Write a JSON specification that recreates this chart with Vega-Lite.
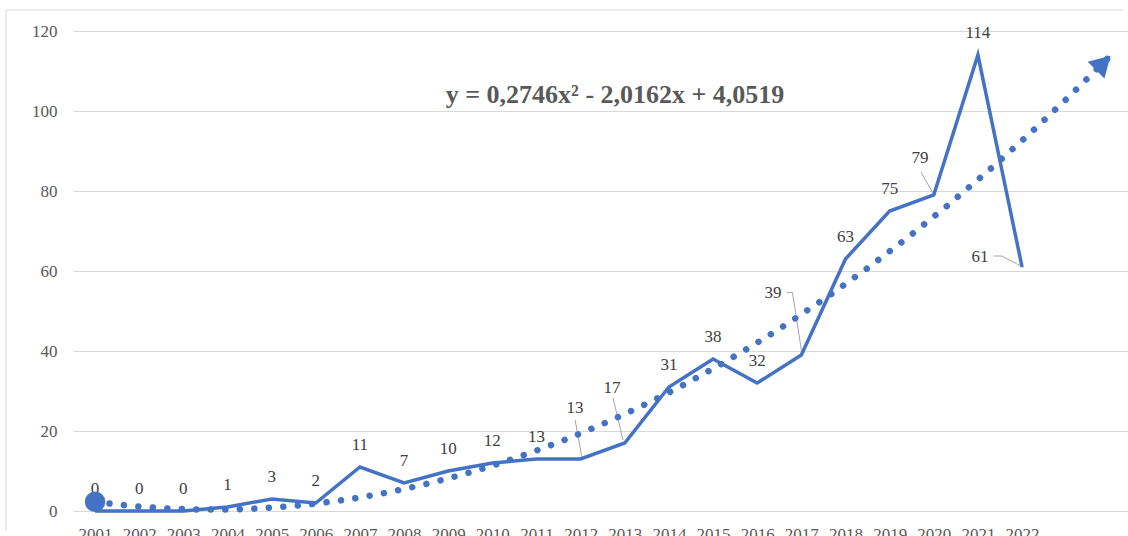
{
  "$schema": "https://vega.github.io/schema/vega-lite/v6.json",
  "width": 1055,
  "height": 480,
  "autosize": {"type": "none"},
  "padding": {"left": 73, "top": 31, "right": 0, "bottom": 25},
  "background": "white",
  "config": {
    "view": {"stroke": null},
    "font": "Liberation Serif",
    "text": {"font": "Liberation Serif"},
    "axis": {
      "labelFont": "Liberation Serif",
      "labelFontSize": 17,
      "labelColor": "#595959",
      "domain": false,
      "ticks": false,
      "title": null
    }
  },
  "data": {
    "values": [
      {"year": 2001, "count": 0},
      {"year": 2002, "count": 0},
      {"year": 2003, "count": 0},
      {"year": 2004, "count": 1},
      {"year": 2005, "count": 3},
      {"year": 2006, "count": 2},
      {"year": 2007, "count": 11},
      {"year": 2008, "count": 7},
      {"year": 2009, "count": 10},
      {"year": 2010, "count": 12},
      {"year": 2011, "count": 13},
      {"year": 2012, "count": 13},
      {"year": 2013, "count": 17},
      {"year": 2014, "count": 31},
      {"year": 2015, "count": 38},
      {"year": 2016, "count": 32},
      {"year": 2017, "count": 39},
      {"year": 2018, "count": 63},
      {"year": 2019, "count": 75},
      {"year": 2020, "count": 79},
      {"year": 2021, "count": 114},
      {"year": 2022, "count": 61}
    ]
  },
  "encoding": {
    "x": {
      "field": "year",
      "type": "quantitative",
      "scale": {"domain": [2000.5, 2024.4], "nice": false, "zero": false},
      "axis": {
        "values": [2001, 2002, 2003, 2004, 2005, 2006, 2007, 2008, 2009, 2010, 2011, 2012, 2013, 2014, 2015, 2016, 2017, 2018, 2019, 2020, 2021, 2022],
        "format": "d",
        "grid": false,
        "labelPadding": 15,
        "labelFlush": false,
        "labelOverlap": false
      }
    },
    "y": {
      "field": "count",
      "type": "quantitative",
      "scale": {"domain": [0, 120], "nice": false},
      "axis": {
        "values": [0, 20, 40, 60, 80, 100, 120],
        "grid": true,
        "gridColor": "#d9d9d9",
        "gridWidth": 1,
        "labelPadding": 16
      }
    }
  },
  "layer": [
    {
      "transform": [{"filter": "datum.year == 2001"}],
      "mark": {"type": "rule", "color": "#d9d9d9", "strokeWidth": 1, "clip": false},
      "encoding": {
        "x": {"datum": 1998.98},
        "y": {"datum": 125.25},
        "y2": {"datum": -5}
      }
    },
    {
      "transform": [{"filter": "datum.year == 2001"}],
      "mark": {"type": "rule", "color": "#d9d9d9", "strokeWidth": 1, "clip": false},
      "encoding": {
        "x": {"datum": 1998.98},
        "x2": {"datum": 2024.3},
        "y": {"datum": 125.25}
      }
    },
    {
      "transform": [{"filter": "indexof([2012, 2013, 2017, 2020, 2022], datum.year) < 0"}],
      "mark": {"type": "text", "font": "Liberation Serif", "dy": -22, "fontSize": 17, "color": "#404040", "baseline": "middle"},
      "encoding": {"text": {"field": "count", "type": "quantitative"}}
    },
    {
      "transform": [{"filter": "datum.year == 2012"}],
      "mark": {"type": "text", "font": "Liberation Serif", "fontSize": 17, "color": "#404040", "baseline": "middle"},
      "encoding": {"x": {"datum": 2011.875}, "y": {"datum": 25.75}, "text": {"field": "count", "type": "quantitative"}}
    },
    {
      "transform": [{"filter": "datum.year == 2013"}],
      "mark": {"type": "text", "font": "Liberation Serif", "fontSize": 17, "color": "#404040", "baseline": "middle"},
      "encoding": {"x": {"datum": 2012.71}, "y": {"datum": 30.75}, "text": {"field": "count", "type": "quantitative"}}
    },
    {
      "transform": [{"filter": "datum.year == 2017"}],
      "mark": {"type": "text", "font": "Liberation Serif", "fontSize": 17, "color": "#404040", "baseline": "middle"},
      "encoding": {"x": {"datum": 2016.36}, "y": {"datum": 54.6}, "text": {"field": "count", "type": "quantitative"}}
    },
    {
      "transform": [{"filter": "datum.year == 2020"}],
      "mark": {"type": "text", "font": "Liberation Serif", "fontSize": 17, "color": "#404040", "baseline": "middle"},
      "encoding": {"x": {"datum": 2019.69}, "y": {"datum": 88.25}, "text": {"field": "count", "type": "quantitative"}}
    },
    {
      "transform": [{"filter": "datum.year == 2022"}],
      "mark": {"type": "text", "font": "Liberation Serif", "fontSize": 17, "color": "#404040", "baseline": "middle"},
      "encoding": {"x": {"datum": 2021.05}, "y": {"datum": 63.6}, "text": {"field": "count", "type": "quantitative"}}
    },
    {
      "transform": [{"filter": "datum.year == 2012"}],
      "mark": {"type": "rule", "color": "#a6a6a6", "strokeWidth": 1},
      "encoding": {"x": {"datum": 2011.875}, "x2": {"datum": 2012.03}, "y": {"datum": 22.75}, "y2": {"datum": 13.25}}
    },
    {
      "transform": [{"filter": "datum.year == 2013"}],
      "mark": {"type": "rule", "color": "#a6a6a6", "strokeWidth": 1},
      "encoding": {"x": {"datum": 2012.735}, "x2": {"datum": 2012.96}, "y": {"datum": 28.25}, "y2": {"datum": 17.75}}
    },
    {
      "transform": [{"filter": "datum.year == 2017"}],
      "mark": {"type": "rule", "color": "#a6a6a6", "strokeWidth": 1},
      "encoding": {"x": {"datum": 2016.67}, "x2": {"datum": 2016.8}, "y": {"datum": 54.6}, "y2": {"datum": 54.6}}
    },
    {
      "transform": [{"filter": "datum.year == 2017"}],
      "mark": {"type": "rule", "color": "#a6a6a6", "strokeWidth": 1},
      "encoding": {"x": {"datum": 2016.8}, "x2": {"datum": 2017.01}, "y": {"datum": 54.6}, "y2": {"datum": 39.5}}
    },
    {
      "transform": [{"filter": "datum.year == 2020"}],
      "mark": {"type": "rule", "color": "#a6a6a6", "strokeWidth": 1},
      "encoding": {"x": {"datum": 2019.71}, "x2": {"datum": 2019.98}, "y": {"datum": 84.75}, "y2": {"datum": 79.5}}
    },
    {
      "transform": [{"filter": "datum.year == 2022"}],
      "mark": {"type": "rule", "color": "#a6a6a6", "strokeWidth": 1},
      "encoding": {"x": {"datum": 2021.35}, "x2": {"datum": 2021.54}, "y": {"datum": 63.75}, "y2": {"datum": 63.75}}
    },
    {
      "transform": [{"filter": "datum.year == 2022"}],
      "mark": {"type": "rule", "color": "#a6a6a6", "strokeWidth": 1},
      "encoding": {"x": {"datum": 2021.54}, "x2": {"datum": 2022.03}, "y": {"datum": 63.75}, "y2": {"datum": 60.9}}
    },
    {
      "mark": {"type": "line", "color": "#4472C4", "strokeWidth": 3.5},
      "encoding": {}
    },
    {
      "transform": [{"regression": "count", "on": "year", "method": "poly", "order": 2, "extent": [2001, 2024]}],
      "mark": {"type": "line", "color": "#4472C4", "strokeWidth": 6.5, "strokeCap": "round", "strokeDash": [0.01, 14.5]},
      "encoding": {}
    },
    {
      "transform": [
        {"regression": "count", "on": "year", "method": "poly", "order": 2, "extent": [2001, 2024]},
        {"filter": "datum.year <= 2001.001"}
      ],
      "mark": {"type": "point", "shape": "circle", "filled": true, "color": "#4472C4", "opacity": 1, "size": 420},
      "encoding": {}
    },
    {
      "transform": [
        {"regression": "count", "on": "year", "method": "poly", "order": 2, "extent": [2001, 2023.84]},
        {"filter": "datum.year >= 2023.83"}
      ],
      "mark": {"type": "point", "shape": "triangle-up", "filled": true, "color": "#4472C4", "opacity": 1, "size": 560, "angle": 45},
      "encoding": {}
    },
    {
      "transform": [{"filter": "datum.year == 2001"}],
      "mark": {"type": "text", "font": "Liberation Serif", "fontSize": 26, "fontWeight": "bold", "color": "#595959", "baseline": "middle", "align": "center"},
      "encoding": {
        "x": {"datum": 2012.78},
        "y": {"datum": 104},
        "text": {"value": "y = 0,2746x² - 2,0162x + 4,0519"}
      }
    }
  ]
}
